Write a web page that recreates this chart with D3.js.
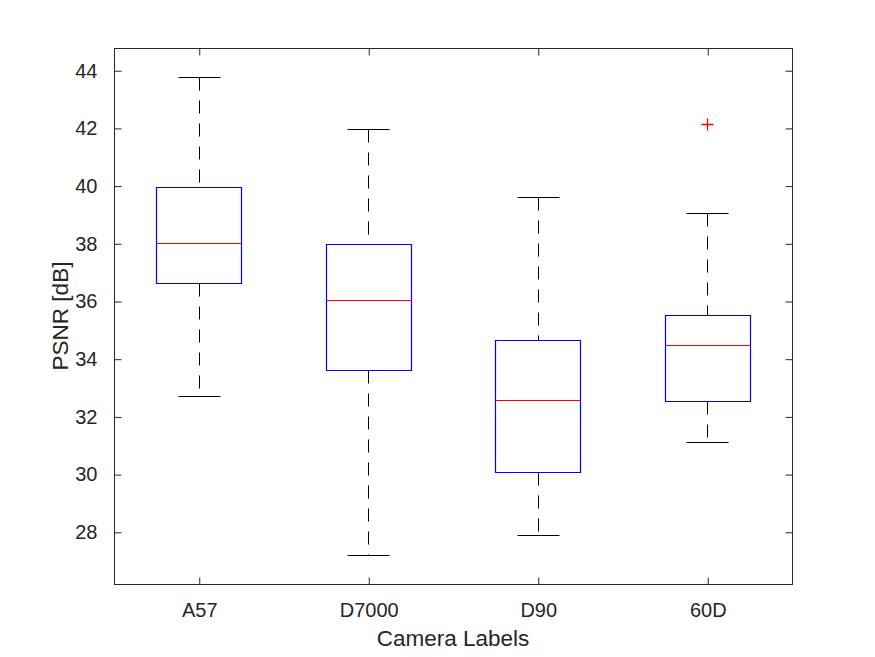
<!DOCTYPE html>
<html>
<head>
<meta charset="utf-8">
<script src="https://cdn.jsdelivr.net/npm/d3@7"></script>
<style>
  body { margin: 0; background: #fff; }
  svg text { font-family: "Liberation Sans", Arial, sans-serif; fill: #262626; }
</style>
</head>
<body>
<div id="chart"></div>
<script>
// box plot stats
var cameras = ["A57", "D7000", "D90", "60D"];
var whiskerLow = [32.71, 27.19, 27.90, 31.10];
var quart1 = [36.62, 33.60, 30.07, 32.54];
var medians = [38.02, 36.05, 32.57, 34.46];
var quart3 = [39.96, 37.97, 34.65, 35.52];
var whiskerHigh = [43.76, 41.96, 39.60, 39.05];
var outlierCam = ["60D"];
var outlierVal = [42.14];
var yTicks = [28, 30, 32, 34, 36, 38, 40, 42, 44];

var W = 875, H = 657;
var plotL = 114, plotR = 792, plotT = 48, plotB = 584;
var axisColor = "#262626";

var svg = d3.select("#chart").append("svg")
    .attr("width", W)
    .attr("height", H);

var x = d3.scalePoint()
    .domain(cameras)
    .range([plotL, plotR])
    .padding(0.5);

var y = d3.scaleLinear()
    .domain([26.19, 44.77])
    .range([plotB, plotT]);

var boxW = x.step() * 0.5;
var capW = x.step() * 0.25;

// crisp 1px lines
function px(v) { return Math.round(v) + 0.5; }

var stats = cameras.map(function(c, i) {
    return {cam: c, lo: whiskerLow[i], q1: quart1[i], med: medians[i], q3: quart3[i], hi: whiskerHigh[i]};
});

var g = svg.append("g");

var box = g.selectAll("g.box")
    .data(stats)
    .enter().append("g")
    .attr("class", "box");

// dashed whiskers
box.append("line")
    .attr("x1", function(d) { return px(x(d.cam)); })
    .attr("x2", function(d) { return px(x(d.cam)); })
    .attr("y1", function(d) { return px(y(d.hi)); })
    .attr("y2", function(d) { return px(y(d.q3)); })
    .attr("stroke", "#000").attr("stroke-dasharray", "13,10");
box.append("line")
    .attr("x1", function(d) { return px(x(d.cam)); })
    .attr("x2", function(d) { return px(x(d.cam)); })
    .attr("y1", function(d) { return px(y(d.q1)); })
    .attr("y2", function(d) { return px(y(d.lo)); })
    .attr("stroke", "#000").attr("stroke-dasharray", "13,10");

// caps
["hi", "lo"].forEach(function(k) {
    box.append("line")
        .attr("x1", function(d) { return px(x(d.cam) - capW / 2); })
        .attr("x2", function(d) { return px(x(d.cam) + capW / 2); })
        .attr("y1", function(d) { return px(y(d[k])); })
        .attr("y2", function(d) { return px(y(d[k])); })
        .attr("stroke", "#000");
});

// boxes, drawn as a path so the outline is one stroke
box.append("path")
    .attr("d", function(d) {
        var x0 = px(x(d.cam) - boxW / 2), x1 = x0 + Math.round(boxW);
        var y0 = px(y(d.q3)), y1 = px(y(d.q1));
        return "M" + x0 + "," + y0 + "H" + x1 + "V" + y1 + "H" + x0 + "Z";
    })
    .attr("fill", "none")
    .attr("stroke", "#0000ff")
    .attr("stroke-width", 1.2);

// medians
box.append("line")
    .attr("x1", function(d) { return px(x(d.cam) - boxW / 2); })
    .attr("x2", function(d) { return px(x(d.cam) - boxW / 2) + Math.round(boxW); })
    .attr("y1", function(d) { return px(y(d.med)); })
    .attr("y2", function(d) { return px(y(d.med)); })
    .attr("stroke", "#ff0000")
    .attr("stroke-width", 1.2);

// outliers as red +
var out = g.selectAll("g.outlier")
    .data(outlierCam.map(function(c, i) { return {cam: c, v: outlierVal[i]}; }))
    .enter().append("g")
    .attr("class", "outlier")
    .attr("transform", function(d) { return "translate(" + px(x(d.cam)) + "," + px(y(d.v)) + ")"; });
out.append("path")
    .attr("d", "M-6,0H6M0,-6V6")
    .attr("stroke", "#ff0000")
    .attr("stroke-width", 1.3);

// axes - ticks point inwards
var yAxisL = d3.axisLeft(y).tickValues(yTicks).tickSizeInner(-7).tickSizeOuter(0).tickPadding(17);
var yAxisR = d3.axisRight(y).tickValues(yTicks).tickSizeInner(-7).tickSizeOuter(0).tickFormat("");
var xAxisB = d3.axisBottom(x).tickSizeInner(-7).tickSizeOuter(0).tickPadding(18);
var xAxisT = d3.axisTop(x).tickSizeInner(-7).tickSizeOuter(0).tickFormat("");

function styleAxis(sel) {
    sel.select(".domain").remove();
    sel.selectAll("line").attr("stroke", axisColor);
    sel.selectAll("text").attr("font-size", 20).attr("fill", axisColor)
        .style("font-family", "'Liberation Sans', Arial, sans-serif");
}

svg.append("g").attr("transform", "translate(" + (plotL + 0.5) + ",0.5)").call(yAxisL).call(styleAxis);
svg.append("g").attr("transform", "translate(" + (plotR + 0.5) + ",0.5)").call(yAxisR).call(styleAxis);
svg.append("g").attr("transform", "translate(0.5," + (plotB + 0.5) + ")").call(xAxisB).call(styleAxis);
svg.append("g").attr("transform", "translate(0.5," + (plotT + 0.5) + ")").call(xAxisT).call(styleAxis);

// frame
svg.append("rect")
    .attr("x", plotL + 0.5).attr("y", plotT + 0.5)
    .attr("width", plotR - plotL).attr("height", plotB - plotT)
    .attr("fill", "none").attr("stroke", axisColor);

// axis labels
svg.append("text")
    .attr("x", (plotL + plotR) / 2)
    .attr("y", 646)
    .attr("text-anchor", "middle")
    .attr("font-size", 22.5)
    .text("Camera Labels");

svg.append("text")
    .attr("transform", "translate(68," + (plotT + plotB) / 2 + ") rotate(-90)")
    .attr("text-anchor", "middle")
    .attr("font-size", 22.5)
    .text("PSNR [dB]");
</script>
</body>
</html>
